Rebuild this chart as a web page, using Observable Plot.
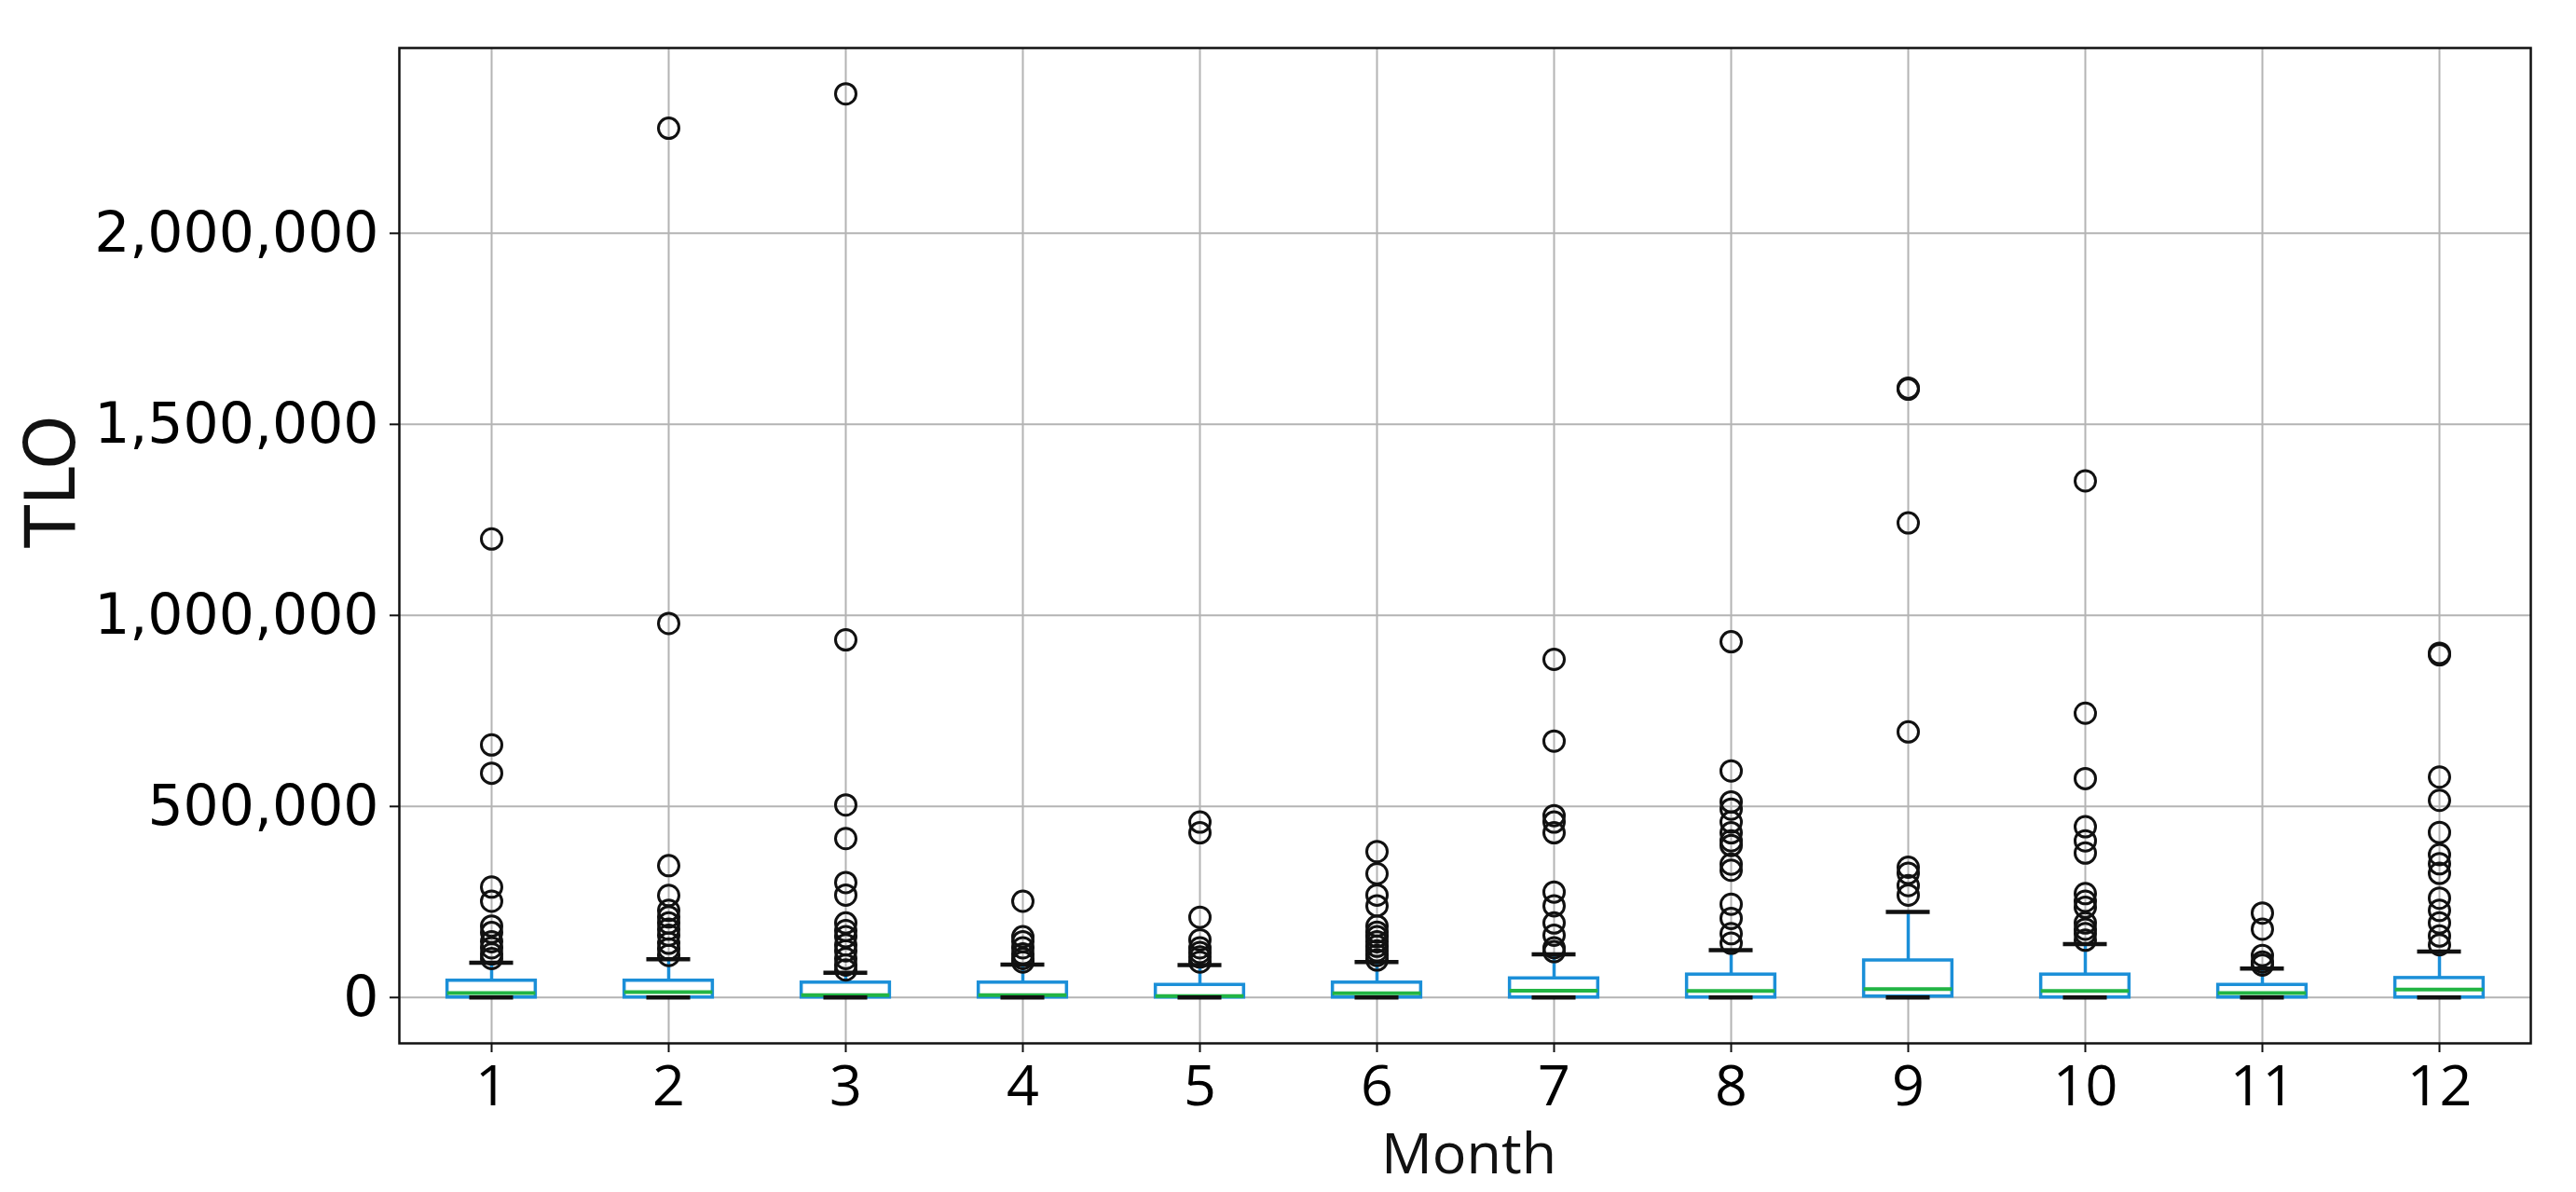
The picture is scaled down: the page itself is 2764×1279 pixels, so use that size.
<!DOCTYPE html>
<html>
<head>
<meta charset="utf-8">
<script src="https://cdn.jsdelivr.net/npm/d3@7"></script>
<script src="https://cdn.jsdelivr.net/npm/@observablehq/plot@0.6"></script>
<style>
  html, body { margin: 0; padding: 0; background: #fff; }
  #chart svg { display: block; }
</style>
</head>
<body>
<div id="chart"></div>
<script>
// ---- data ----
const months = [1, 2, 3, 4, 5, 6, 7, 8, 9, 10, 11, 12];
const q1 =          [0, 0, 0, 0, 0, 0, 0, 0, 2500, 0, 0, 0];
const median =      [12000, 14000, 6000, 6000, 4000, 11000, 18000, 17000, 22000, 17000, 12000, 21000];
const q3 =          [44000, 44000, 39000, 39000, 33000, 39000, 50000, 60000, 97000, 60000, 33000, 51000];
const whiskerLow =  [0, 0, 0, 0, 0, 0, 0, 0, 0, 0, 0, 0];
const whiskerHigh = [91000, 100000, 65000, 86000, 85000, 93000, 113000, 124000, 224000, 140000, 76000, 120000];
const outliers = [
  [1200000, 661000, 587000, 289000, 252000, 187000, 170000, 146000, 130000, 114000, 102000],
  [2275000, 979000, 345000, 267000, 228000, 211000, 195000, 179000, 163000, 142000, 127000, 110000],
  [2365000, 936000, 504000, 416000, 301000, 268000, 195000, 175000, 159000, 138000, 122000, 102000, 85000, 72000],
  [252000, 159000, 146000, 130000, 114000, 102000, 93000],
  [459000, 431000, 210000, 151000, 130000, 118000, 106000, 93000],
  [382000, 324000, 268000, 240000, 187000, 171000, 159000, 146000, 134000, 122000, 110000, 98000],
  [885000, 671000, 476000, 459000, 431000, 276000, 240000, 195000, 163000, 130000, 120000],
  [931000, 593000, 512000, 493000, 459000, 431000, 410000, 398000, 349000, 333000, 244000, 207000, 167000, 142000],
  [1595000, 1592000, 1242000, 695000, 341000, 325000, 293000, 268000],
  [1352000, 744000, 573000, 447000, 410000, 378000, 272000, 252000, 236000, 195000, 179000, 167000, 150000],
  [221000, 179000, 110000, 93000, 85000],
  [901000, 897000, 577000, 516000, 432000, 374000, 350000, 325000, 260000, 228000, 195000, 161000, 138000]
];
const yTicks = [0, 500000, 1000000, 1500000, 2000000];
const yLabel = ["TLO"];
const xLabel = ["Month"];

// ---- tables built from the arrays ----
const boxes = months.map((m, i) => ({
  month: m, q1: q1[i], median: median[i], q3: q3[i],
  low: whiskerLow[i], high: whiskerHigh[i]
}));
const outlierRows = months.flatMap((m, i) => outliers[i].map(v => ({month: m, value: v})));

const W = 2764, H = 1279;
const mL = 428, mR = 49, mT = 51, mB = 160;
const band = (W - mL - mR) / months.length;
const boxInset = band / 4;
const capInset = band * 3 / 8;
const blue = "#1b8fd8";
const green = "#22b544";

const chart = Plot.plot({
  width: W,
  height: H,
  marginLeft: mL,
  marginRight: mR,
  marginTop: mT,
  marginBottom: mB,
  style: {background: "white", color: "black"},
  x: {type: "band", domain: months, padding: 0, align: 0.5},
  y: {domain: [-120000, 2485000]},
  marks: [
    Plot.gridX(months, {stroke: "#b4b4b4", strokeOpacity: 1, strokeWidth: 2}),
    Plot.gridY(yTicks, {stroke: "#b4b4b4", strokeOpacity: 1, strokeWidth: 2}),
    Plot.ruleX(boxes, {x: "month", y1: "q3", y2: "high", stroke: blue, strokeWidth: 3.5}),
    Plot.ruleX(boxes, {x: "month", y1: "low", y2: "q1", stroke: blue, strokeWidth: 3.5}),
    Plot.barY(boxes, {x: "month", y1: "q1", y2: "q3", fill: "white", stroke: blue, strokeWidth: 3.5,
      insetLeft: boxInset, insetRight: boxInset}),
    Plot.tickY(boxes, {x: "month", y: "median", stroke: green, strokeWidth: 4,
      insetLeft: boxInset, insetRight: boxInset}),
    Plot.tickY(boxes, {x: "month", y: "high", stroke: "#111", strokeWidth: 4.5,
      insetLeft: capInset, insetRight: capInset}),
    Plot.tickY(boxes, {x: "month", y: "low", stroke: "#111", strokeWidth: 4.5,
      insetLeft: capInset, insetRight: capInset}),
    Plot.dot(outlierRows, {x: "month", y: "value", r: 11, stroke: "#111", strokeWidth: 3, fill: "none"}),
    Plot.frame({stroke: "#111", strokeWidth: 2.5}),
    Plot.axisY(yTicks, {tickFormat: d3.format(","), tickSize: 10, tickPadding: 12,
      fontSize: 60, fontFamily: "DejaVu Sans", label: null, stroke: "#111", strokeWidth: 2}),
    Plot.axisX(months, {tickSize: 10, tickPadding: 13, fontSize: 61, fontFamily: "Open Sans",
      label: null, stroke: "#111", strokeWidth: 2}),
    Plot.text(yLabel, {frameAnchor: "left", dx: -372, dy: 2, rotate: -90, fontSize: 74,
      fontFamily: "DejaVu Sans", fill: "#111"}),
    Plot.text(xLabel, {frameAnchor: "bottom", dx: 4, dy: 139, lineAnchor: "bottom", fontSize: 61,
      fontFamily: "Open Sans", fill: "#111"})
  ]
});
document.getElementById("chart").appendChild(chart);
</script>
</body>
</html>
